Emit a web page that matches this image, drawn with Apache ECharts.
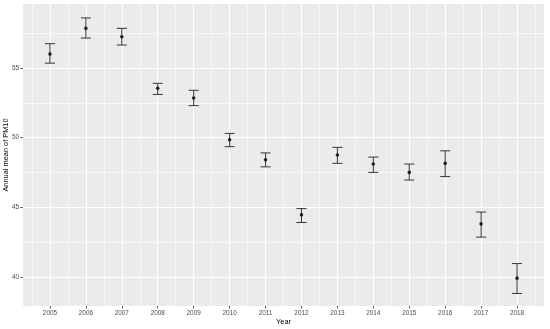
<!DOCTYPE html>
<html>
<head>
<meta charset="utf-8">
<script src="https://cdn.jsdelivr.net/npm/echarts@6/dist/echarts.min.js"></script>
<style>
  html, body { margin: 0; padding: 0; background: #fff; }
  #main { width: 550px; height: 329px; }
</style>
</head>
<body>
<div id="main"></div>
<script>
// annual mean of PM10 with its error bars
var years = [2005, 2006, 2007, 2008, 2009, 2010, 2011, 2012, 2013, 2014, 2015, 2016, 2017, 2018];
var means = [56.0, 57.85, 57.25, 53.55, 52.85, 49.85, 48.4, 44.45, 48.75, 48.1, 47.5, 48.15, 43.8, 39.9];
var lows  = [55.35, 57.15, 56.65, 53.1, 52.3, 49.35, 47.9, 43.9, 48.15, 47.5, 46.95, 47.2, 42.85, 38.8];
var highs = [56.75, 58.6, 57.85, 53.9, 53.4, 50.3, 48.9, 44.9, 49.3, 48.6, 48.1, 49.05, 44.65, 40.95];
var yTicks = [40, 45, 50, 55];
var yMinor = [42.5, 47.5, 52.5, 57.5];
var xMinor = [];
for (var i = 0; i <= years.length; i++) xMinor.push(years[0] - 0.5 + i);

var chart = echarts.init(document.getElementById('main'));

var pts = [], bars = [];
for (var j = 0; j < years.length; j++) {
  pts.push([years[j], means[j]]);
  bars.push([years[j], lows[j], highs[j]]);
}

var txt = { fontFamily: 'Liberation Sans', fontSize: 6.4, color: '#4D4D4D' };
var ttl = { fontFamily: 'Liberation Sans', fontSize: 7.4, color: '#000' };

chart.setOption({
  backgroundColor: '#fff',
  animation: false,
  grid: {
    left: 23, right: 6, top: 4, bottom: 23,
    outerBoundsMode: 'none', containLabel: false,
    show: true, backgroundColor: '#EBEBEB', borderWidth: 0
  },
  xAxis: [{
    type: 'value', min: 2004.25, max: 2018.75,
    name: 'Year', nameLocation: 'middle', nameGap: 12.5, nameMoveOverlap: false,
    nameTextStyle: ttl,
    axisLine: { show: false },
    axisTick: { show: true, length: 2.5, customValues: years, lineStyle: { color: '#333', width: 0.8 } },
    axisLabel: Object.assign({ customValues: years, margin: 4.5, formatter: function (v) { return String(v); } }, txt),
    splitLine: { show: true, lineStyle: { color: '#fff', width: 1.1 } }
  }, {
    type: 'value', min: 2004.25, max: 2018.75, position: 'bottom',
    axisLine: { show: false },
    axisTick: { show: false, customValues: xMinor },
    axisLabel: { show: false, customValues: xMinor },
    splitLine: { show: true, lineStyle: { color: '#fff', width: 0.6 } }
  }],
  yAxis: [{
    type: 'value', min: 37.9, max: 59.6,
    name: 'Annual mean of PM10', nameLocation: 'middle', nameGap: 14, nameMoveOverlap: false,
    nameTextStyle: ttl,
    axisLine: { show: false },
    axisTick: { show: true, length: 2.5, customValues: yTicks, lineStyle: { color: '#333', width: 0.8 } },
    axisLabel: Object.assign({ customValues: yTicks, margin: 4 }, txt),
    splitLine: { show: true, lineStyle: { color: '#fff', width: 1.1 } }
  }, {
    type: 'value', min: 37.9, max: 59.6, position: 'left',
    axisLine: { show: false },
    axisTick: { show: false, customValues: yMinor },
    axisLabel: { show: false, customValues: yMinor },
    splitLine: { show: true, lineStyle: { color: '#fff', width: 0.6 } }
  }],
  series: [{
    type: 'custom',
    data: bars,
    z: 3,
    renderItem: function (params, api) {
      var x = api.value(0);
      var lo = api.coord([x, api.value(1)]);
      var hi = api.coord([x, api.value(2)]);
      var hw = api.size([0.28, 0])[0] / 2;
      var st = { stroke: '#222', lineWidth: 0.9, fill: null };
      return {
        type: 'group',
        children: [
          { type: 'line', shape: { x1: lo[0], y1: lo[1], x2: hi[0], y2: hi[1] }, style: st },
          { type: 'line', shape: { x1: lo[0] - hw, y1: lo[1], x2: lo[0] + hw, y2: lo[1] }, style: st },
          { type: 'line', shape: { x1: hi[0] - hw, y1: hi[1], x2: hi[0] + hw, y2: hi[1] }, style: st }
        ]
      };
    }
  }, {
    type: 'scatter',
    data: pts,
    z: 4,
    symbol: 'circle',
    symbolSize: 3.6,
    itemStyle: { color: '#000' }
  }]
});
</script>
</body>
</html>
